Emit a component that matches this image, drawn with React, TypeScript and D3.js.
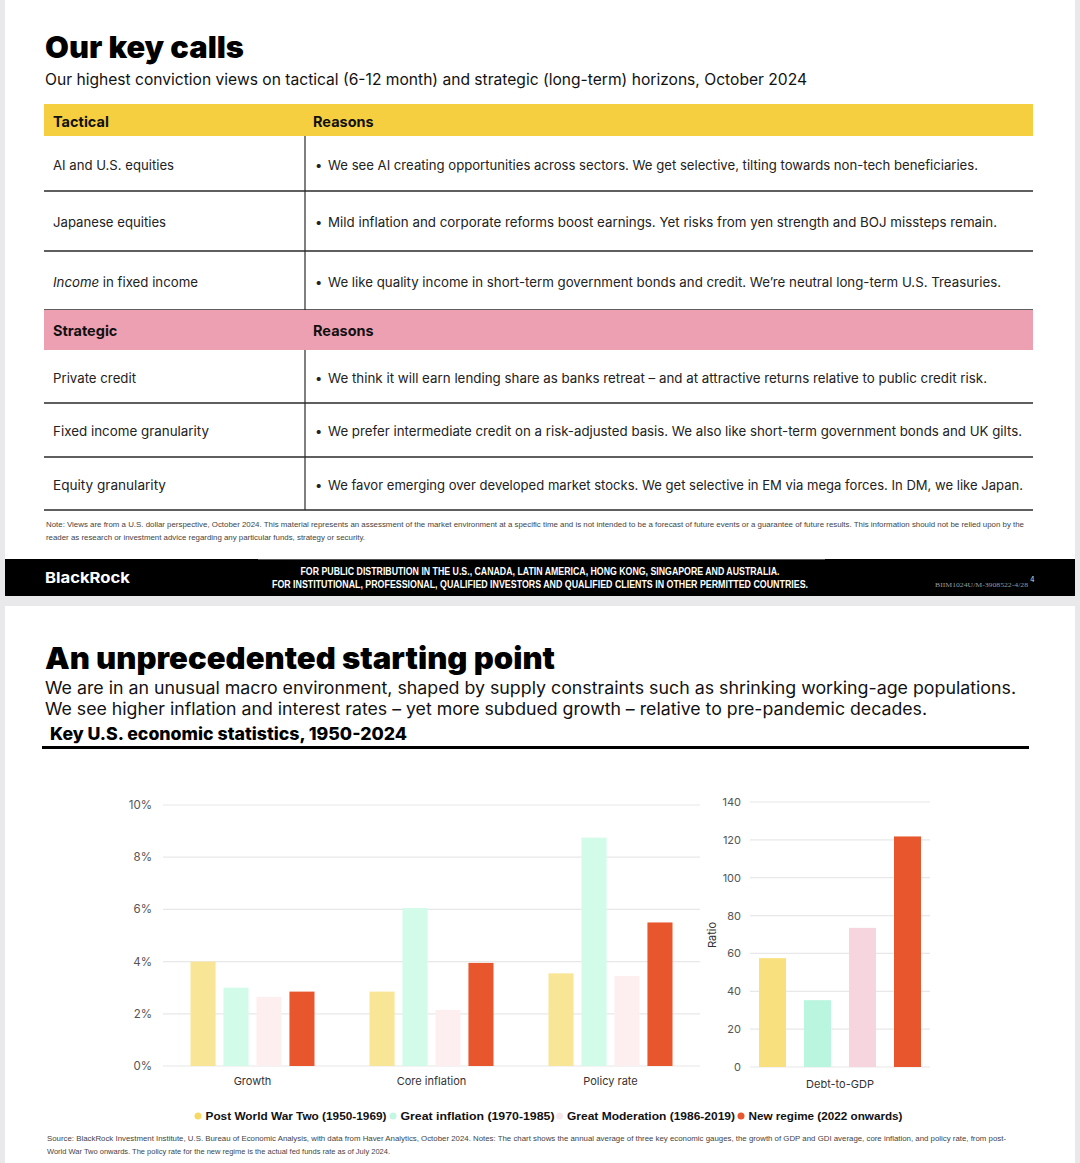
import React from "react";
import * as d3 from "d3";

// ---------- Data ----------
const tacticalRows = ["AI and U.S. equities", "Japanese equities", "Income in fixed income"];
const tacticalReasons = [
  "We see AI creating opportunities across sectors. We get selective, tilting towards non-tech beneficiaries.",
  "Mild inflation and corporate reforms boost earnings. Yet risks from yen strength and BOJ missteps remain.",
  "We like quality income in short-term government bonds and credit. We\u2019re neutral long-term U.S. Treasuries.",
];
const strategicRows = ["Private credit", "Fixed income granularity", "Equity granularity"];
const strategicReasons = [
  "We think it will earn lending share as banks retreat \u2013 and at attractive returns relative to public credit risk.",
  "We prefer intermediate credit on a risk-adjusted basis. We also like short-term government bonds and UK gilts.",
  "We favor emerging over developed market stocks. We get selective in EM via mega forces. In DM, we like Japan.",
];

const categories = ["Growth", "Core inflation", "Policy rate"];
const seriesNames = [
  "Post World War Two (1950-1969)",
  "Great inflation (1970-1985)",
  "Great Moderation (1986-2019)",
  "New regime (2022 onwards)",
];
const postWarTwo = [4.0, 2.85, 3.55];
const greatInflation = [3.0, 6.05, 8.75];
const greatModeration = [2.65, 2.15, 3.45];
const newRegime = [2.85, 3.95, 5.5];
const debtCategory = ["Debt-to-GDP"];
const debtToGdp = [57.5, 35.3, 73.5, 121.8];

const pctTicks = [0, 2, 4, 6, 8, 10];
const ratioTicks = [0, 20, 40, 60, 80, 100, 120, 140];

// ---------- Styles ----------
const W = 1080;
const H = 1163;
const FONT = "Inter, 'Open Sans', 'Liberation Sans', sans-serif";
const NARROW = "'Liberation Sans Narrow', 'Liberation Sans', Arial, sans-serif";
const pctColors = ["#f9e596", "#d2fbe9", "#fdeef0", "#e8562e"];
const ratioColors = ["#f9e07e", "#baf6df", "#f7d5df", "#e8562e"];
const legendDots = ["#f6d964", "#c5f5e3", "#f7e6ea", "#e8562e"];

const rowLabelWidths = [121, 113, 145];
const strategicLabelWidths = [83, 156, 113];
const tacticalReasonWidths = [650, 669, 673];
const strategicReasonWidths = [659, 694, 695];
const legendWidths = [181, 154, 168, 154];

function Table() {
  const left = 44, div = 305, right = 1033;
  const tHead = [104, 136];
  const tRows = [136, 191, 251, 310];
  const sHead = [310, 350];
  const sRows = [350, 403, 457, 510];
  const lineColor = "#2a2a2a";
  const renderRows = (bounds: number[], labels: string[], reasons: string[], lw: number[], rw: number[]) =>
    labels.map((lab, i) => {
      const y0 = bounds[i], y1 = bounds[i + 1];
      const cy = (y0 + y1) / 2 + 6;
      return (
        <g key={lab}>
          <line x1={div} x2={div} y1={y0} y2={y1} stroke={lineColor} strokeWidth={1.2} />
          <line x1={left} x2={right} y1={y1} y2={y1} stroke={lineColor} strokeWidth={1.3} />
          <text x={53} y={cy} fontSize={13} fill="#222" fontFamily={FONT} textLength={lw[i]} lengthAdjust="spacingAndGlyphs">
            {lab.startsWith("Income") ? (
              <>
                <tspan fontStyle="italic">Income</tspan>
                <tspan>{lab.slice(6)}</tspan>
              </>
            ) : (
              lab
            )}
          </text>
          <text x={315} y={cy} fontSize={13} fill="#222" fontFamily={FONT}>
            •
          </text>
          <text x={328} y={cy} fontSize={13} fill="#222" fontFamily={FONT} textLength={rw[i]} lengthAdjust="spacingAndGlyphs">
            {reasons[i]}
          </text>
        </g>
      );
    });
  return (
    <g>
      <rect x={left} y={tHead[0]} width={right - left} height={tHead[1] - tHead[0]} fill="#f5cf40" />
      <text x={53} y={127} fontSize={14.5} fontWeight={700} fontFamily={FONT} fill="#111">Tactical</text>
      <text x={313} y={127} fontSize={14.5} fontWeight={700} fontFamily={FONT} fill="#111">Reasons</text>
      {renderRows(tRows, tacticalRows, tacticalReasons, rowLabelWidths, tacticalReasonWidths)}
      <rect x={left} y={sHead[0]} width={right - left} height={sHead[1] - sHead[0]} fill="#eea0b3" />
      <text x={53} y={336} fontSize={14.5} fontWeight={700} fontFamily={FONT} fill="#111">Strategic</text>
      <text x={313} y={336} fontSize={14.5} fontWeight={700} fontFamily={FONT} fill="#111">Reasons</text>
      {renderRows(sRows, strategicRows, strategicReasons, strategicLabelWidths, strategicReasonWidths)}
    </g>
  );
}

function PctChart() {
  const y = d3.scaleLinear().domain([0, 10]).range([1066, 805]);
  const x0 = d3.scaleBand<string>().domain(categories).range([163, 700]).padding(0);
  const inner = 124;
  const x1 = d3
    .scaleBand<string>()
    .domain(seriesNames)
    .range([(x0.bandwidth() - inner) / 2, (x0.bandwidth() + inner) / 2])
    .paddingInner(0.24)
    .paddingOuter(0);
  const series = [postWarTwo, greatInflation, greatModeration, newRegime];
  return (
    <g>
      {pctTicks.map((t) => (
        <g key={t}>
          <line x1={163} x2={700} y1={y(t)} y2={y(t)} stroke="#e8e8e8" strokeWidth={1.2} />
          <text x={152} y={y(t) + 4} textAnchor="end" fontSize={11.5} fill="#555" fontFamily={FONT}>
            {t}%
          </text>
        </g>
      ))}
      {categories.map((c, ci) => (
        <g key={c} transform={`translate(${x0(c)},0)`}>
          {series.map((s, si) => (
            <rect
              key={si}
              x={x1(seriesNames[si])}
              y={y(s[ci])}
              width={x1.bandwidth()}
              height={y(0) - y(s[ci])}
              fill={pctColors[si]}
            />
          ))}
          <text x={x0.bandwidth() / 2} y={1085} textAnchor="middle" fontSize={11} fill="#333" fontFamily={FONT}>
            {c}
          </text>
        </g>
      ))}
    </g>
  );
}

function RatioChart() {
  const y = d3.scaleLinear().domain([0, 140]).range([1067, 802]);
  const x0 = d3.scaleBand<string>().domain(debtCategory).range([750, 930]);
  const x1 = d3.scaleBand<string>().domain(seriesNames).range([759, 921]).paddingInner(0.4).paddingOuter(0);
  return (
    <g>
      {ratioTicks.map((t) => (
        <g key={t}>
          <line x1={750} x2={930} y1={y(t)} y2={y(t)} stroke="#e8e8e8" strokeWidth={1.2} />
          <text x={741} y={y(t) + 4} textAnchor="end" fontSize={11} fill="#555" fontFamily={FONT}>
            {t}
          </text>
        </g>
      ))}
      {debtToGdp.map((v, i) => (
        <rect key={i} x={x1(seriesNames[i])} y={y(v)} width={x1.bandwidth()} height={y(0) - y(v)} fill={ratioColors[i]} />
      ))}
      <text x={(x0(debtCategory[0]) as number) + x0.bandwidth() / 2} y={1088} textAnchor="middle" fontSize={11} fill="#333" fontFamily={FONT}>
        {debtCategory[0]}
      </text>
      <text transform="translate(716,935) rotate(-90)" textAnchor="middle" fontSize={11} fill="#333" fontFamily={FONT}>
        Ratio
      </text>
    </g>
  );
}

function Legend() {
  const dotX = [198, 393, 559.5, 741];
  return (
    <g>
      {seriesNames.map((n, i) => (
        <g key={n}>
          <circle cx={dotX[i]} cy={1116} r={3.5} fill={legendDots[i]} />
          <text
            x={dotX[i] + 7.5}
            y={1120}
            fontSize={11.5}
            fontWeight={700}
            fill="#111"
            fontFamily={"'Liberation Sans', Arial, sans-serif"}
            textLength={legendWidths[i]}
            lengthAdjust="spacingAndGlyphs"
          >
            {n}
          </text>
        </g>
      ))}
    </g>
  );
}

export default function App() {
  return (
    <svg
      width={W}
      height={H}
      viewBox={`0 0 ${W} ${H}`}
      style={{ position: "absolute", left: 0, top: 0, display: "block" }}
    >
      <rect x={0} y={0} width={W} height={H} fill="#e9e9ec" />
      {/* Slide 1 */}
      <rect x={5} y={0} width={1070} height={596} fill="#ffffff" />
      <text x={45} y={58} fontSize={30} fontWeight={900} fontFamily={FONT} fill="#000" textLength={199} lengthAdjust="spacingAndGlyphs">
        Our key calls
      </text>
      <text x={45} y={85} fontSize={15.5} fontFamily={FONT} fill="#111" textLength={762} lengthAdjust="spacingAndGlyphs">
        Our highest conviction views on tactical (6-12 month) and strategic (long-term) horizons, October 2024
      </text>
      <Table />
      <text x={46} y={527} fontSize={8} fontFamily={NARROW} fill="#444" textLength={978} lengthAdjust="spacingAndGlyphs">
        Note: Views are from a U.S. dollar perspective, October 2024. This material represents an assessment of the market environment at a specific time and is not intended to be a forecast of future events or a guarantee of future results. This information should not be relied upon by the
      </text>
      <text x={46} y={540} fontSize={8} fontFamily={NARROW} fill="#444" textLength={319} lengthAdjust="spacingAndGlyphs">
        reader as research or investment advice regarding any particular funds, strategy or security.
      </text>
      <rect x={5} y={559} width={1070} height={37} fill="#000" />
      <line x1={258} x2={825} y1={559.5} y2={559.5} stroke="#555" strokeWidth={1} />
      <text x={45} y={583} fontSize={15} fontWeight={700} fontFamily={FONT} fill="#fff" textLength={85} lengthAdjust="spacingAndGlyphs">
        BlackRock
      </text>
      <text x={540} y={575} fontSize={10} fontWeight={700} fontFamily={NARROW} fill="#fff" textAnchor="middle" textLength={479} lengthAdjust="spacingAndGlyphs">
        FOR PUBLIC DISTRIBUTION IN THE U.S., CANADA, LATIN AMERICA, HONG KONG, SINGAPORE AND AUSTRALIA.
      </text>
      <text x={540} y={588} fontSize={10} fontWeight={700} fontFamily={NARROW} fill="#fff" textAnchor="middle" textLength={536} lengthAdjust="spacingAndGlyphs">
        FOR INSTITUTIONAL, PROFESSIONAL, QUALIFIED INVESTORS AND QUALIFIED CLIENTS IN OTHER PERMITTED COUNTRIES.
      </text>
      <text x={935} y={587} fontSize={6.5} fontFamily="'Liberation Serif', serif" fill="#999" textLength={93} lengthAdjust="spacingAndGlyphs">
        BIIM1024U/M-3908522-4/28
      </text>
      <text x={1030} y={582} fontSize={7} fontFamily={FONT} fill="#ddd">4</text>

      {/* Slide 2 */}
      <rect x={5} y={606} width={1070} height={H - 606} fill="#ffffff" />
      <text x={45} y={669} fontSize={30} fontWeight={900} fontFamily={FONT} fill="#000" textLength={510} lengthAdjust="spacingAndGlyphs">
        An unprecedented starting point
      </text>
      <text x={45} y={694} fontSize={17} fontFamily={FONT} fill="#111" textLength={971} lengthAdjust="spacingAndGlyphs">
        We are in an unusual macro environment, shaped by supply constraints such as shrinking working-age populations.
      </text>
      <text x={45} y={715} fontSize={17} fontFamily={FONT} fill="#111" textLength={882} lengthAdjust="spacingAndGlyphs">
        We see higher inflation and interest rates – yet more subdued growth – relative to pre-pandemic decades.
      </text>
      <text x={50} y={740} fontSize={17} fontWeight={800} fontFamily={FONT} fill="#000" textLength={357} lengthAdjust="spacingAndGlyphs">
        Key U.S. economic statistics, 1950-2024
      </text>
      <line x1={42} x2={1029} y1={747.5} y2={747.5} stroke="#000" strokeWidth={3} />
      <PctChart />
      <RatioChart />
      <Legend />
      <text x={47} y={1141} fontSize={8} fontFamily={NARROW} fill="#444" textLength={959} lengthAdjust="spacingAndGlyphs">
        Source: BlackRock Investment Institute, U.S. Bureau of Economic Analysis, with data from Haver Analytics, October 2024. Notes: The chart shows the annual average of three key economic gauges, the growth of GDP and GDI average, core inflation, and policy rate, from post-
      </text>
      <text x={47} y={1154} fontSize={8} fontFamily={NARROW} fill="#444" textLength={343} lengthAdjust="spacingAndGlyphs">
        World War Two onwards. The policy rate for the new regime is the actual fed funds rate as of July 2024.
      </text>
    </svg>
  );
}
